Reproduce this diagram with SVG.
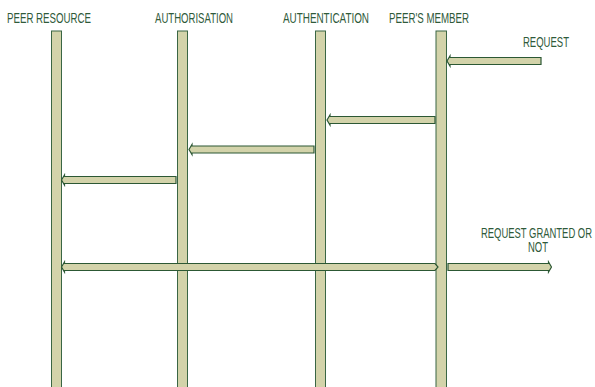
<svg xmlns="http://www.w3.org/2000/svg" width="595" height="387" viewBox="0 0 595 387">
  <style>
    .lbl { font-family: "Liberation Sans", Arial, sans-serif; font-size: 14.5px; fill: #2f5a3a; }
    .bar { fill: #d3d3aa; stroke: #3a6644; stroke-width: 1; }
    .msg { fill: #d3d3aa; stroke: #2c5834; stroke-width: 1.2; stroke-linejoin: miter; }
  </style>
  <rect width="595" height="387" fill="#ffffff"/>

  <!-- lifelines -->
  <g id="peer-resource">
    <rect class="bar" x="51.5" y="31" width="10" height="357"/>
    <text class="lbl" x="7" y="23" textLength="84" lengthAdjust="spacingAndGlyphs">PEER RESOURCE</text>
  </g>
  <g id="authorisation">
    <rect class="bar" x="177.5" y="31" width="10" height="357"/>
    <text class="lbl" x="155" y="23" textLength="78" lengthAdjust="spacingAndGlyphs">AUTHORISATION</text>
  </g>
  <g id="authentication">
    <rect class="bar" x="315.5" y="31" width="10" height="357"/>
    <text class="lbl" x="283" y="23" textLength="86" lengthAdjust="spacingAndGlyphs">AUTHENTICATION</text>
  </g>
  <g id="peers-member">
    <rect class="bar" x="436" y="31" width="10.5" height="357"/>
    <text class="lbl" x="389" y="23" textLength="80" lengthAdjust="spacingAndGlyphs">PEER'S MEMBER</text>
  </g>

  <!-- messages -->
  <g id="connectors">
    <!-- request into peer's member -->
    <polygon class="msg" points="447,61 450,56 450,57.5 541,57.5 541,64.5 450,64.5 450,66"/>
    <text class="lbl" x="523" y="47" textLength="46" lengthAdjust="spacingAndGlyphs">REQUEST</text>
    <!-- peer's member to authentication -->
    <polygon class="msg" points="327,120 330,115 330,116.5 435,116.5 435,123.5 330,123.5 330,125"/>
    <!-- authentication to authorisation -->
    <polygon class="msg" points="189,149.5 192,144.5 192,146 314,146 314,153 192,153 192,154.5"/>
    <!-- authorisation to peer resource -->
    <polygon class="msg" points="61.5,180 64.5,175 64.5,176.5 176,176.5 176,183.5 64.5,183.5 64.5,185"/>
    <!-- peer resource reply across to peer's member -->
    <polygon class="msg" points="61.5,267 64.5,262 64.5,263.5 435,263.5 438,267 435,270.5 64.5,270.5 64.5,272"/>
    <!-- result out of peer's member -->
    <polygon class="msg" points="551.5,267 548.5,262 548.5,263.5 448,263.5 448,270.5 548.5,270.5 548.5,272"/>
    <text class="lbl" x="481" y="238" textLength="111" lengthAdjust="spacingAndGlyphs">REQUEST GRANTED OR</text>
    <text class="lbl" x="528" y="252" textLength="20" lengthAdjust="spacingAndGlyphs">NOT</text>
  </g>
</svg>
